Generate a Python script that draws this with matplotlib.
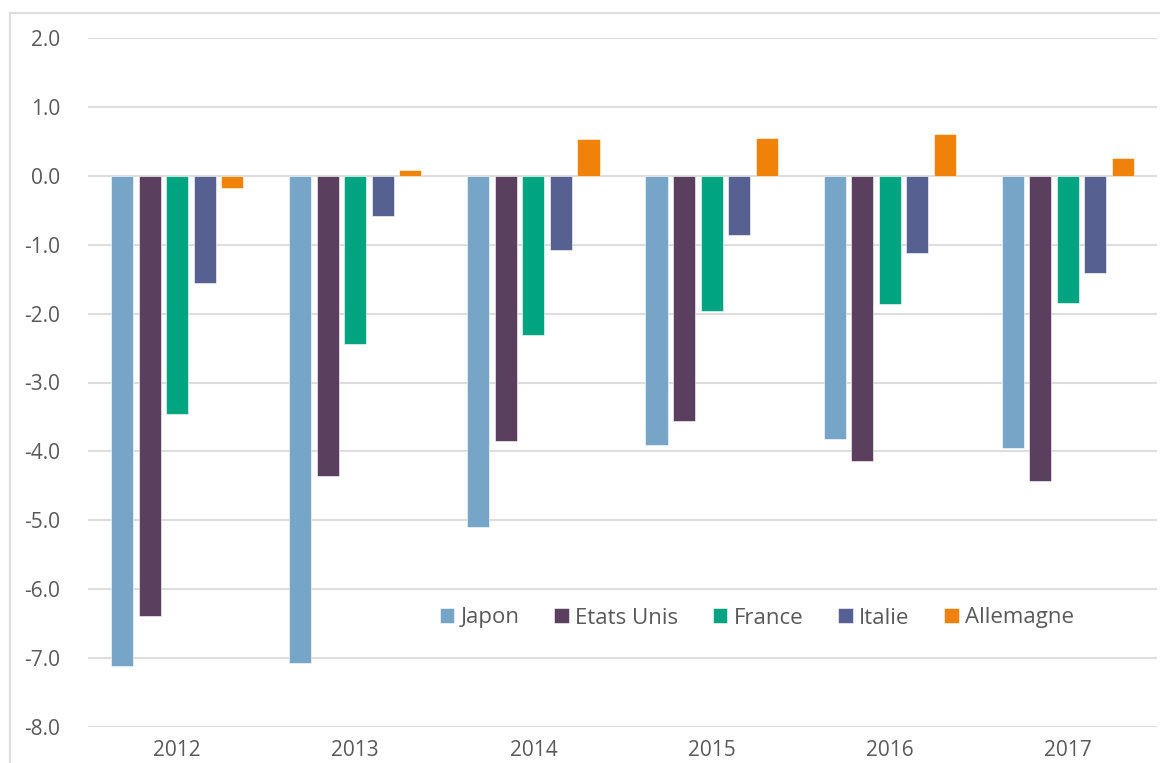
import matplotlib
matplotlib.use("Agg")
import matplotlib.pyplot as plt
import numpy as np
from matplotlib.lines import Line2D

years = ["2012", "2013", "2014", "2015", "2016", "2017"]
series = ["Japon", "Etats Unis", "France", "Italie", "Allemagne"]
japon = [-7.12, -7.07, -5.09, -3.90, -3.82, -3.95]
etats_unis = [-6.39, -4.35, -3.85, -3.56, -4.14, -4.43]
france = [-3.45, -2.44, -2.31, -1.96, -1.86, -1.84]
italie = [-1.55, -0.58, -1.07, -0.86, -1.12, -1.41]
allemagne = [-0.17, 0.09, 0.54, 0.55, 0.61, 0.26]
colors = ["#77A5C8", "#5B3F5E", "#00A481", "#566192", "#F0820A"]
yticks = [2.0, 1.0, 0.0, -1.0, -2.0, -3.0, -4.0, -5.0, -6.0, -7.0, -8.0]

values = [japon, etats_unis, france, italie, allemagne]

plt.rcParams['font.family'] = ['Open Sans', 'DejaVu Sans']
fig = plt.figure(figsize=(11.6, 7.63), dpi=100)
W, H = 1160, 763
ax = fig.add_axes([88 / W, 1 - 727 / H, 1069 / W, (727 - 38) / H])

x = np.arange(len(years))
step = 0.1545
bw = 0.124
for i, (name, vals, c) in enumerate(zip(series, values, colors)):
    ax.bar(x + (i - 2) * step, vals, width=bw, color=c, label=name, zorder=3,
           edgecolor="white", linewidth=0.4)

ax.set_xlim(-0.5, len(years) - 0.5)
ax.set_ylim(-8, 2)
ax.set_yticks(yticks)
ax.set_yticklabels([f"{v:.1f}" for v in yticks])
ax.set_xticks(x)
ax.set_xticklabels(years)
ax.grid(axis="y", color="#DDDDDD", linewidth=1.5, zorder=0)
ax.set_axisbelow(True)
for s in ax.spines.values():
    s.set_visible(False)
ax.tick_params(axis="both", length=0, colors="#595959", labelsize=15)
ax.tick_params(axis="y", pad=20)
ax.tick_params(axis="x", pad=9)

leg = fig.legend(loc="center", bbox_to_anchor=(757 / W, 1 - 618 / H), ncol=5,
                 frameon=False, fontsize=16, handlelength=0.65, handleheight=0.65,
                 handletextpad=0.3, columnspacing=1.55)
for t in leg.get_texts():
    t.set_color("#595959")

fig.add_artist(Line2D([10 / W, 1.0], [1 - 13 / H, 1 - 13 / H], color="#DDDDDD", linewidth=1.5,
                      transform=fig.transFigure))
fig.add_artist(Line2D([10 / W, 10 / W], [1 - 13 / H, 0.0], color="#DDDDDD", linewidth=1.5,
                      transform=fig.transFigure))

fig.savefig("out.png", dpi=100)
